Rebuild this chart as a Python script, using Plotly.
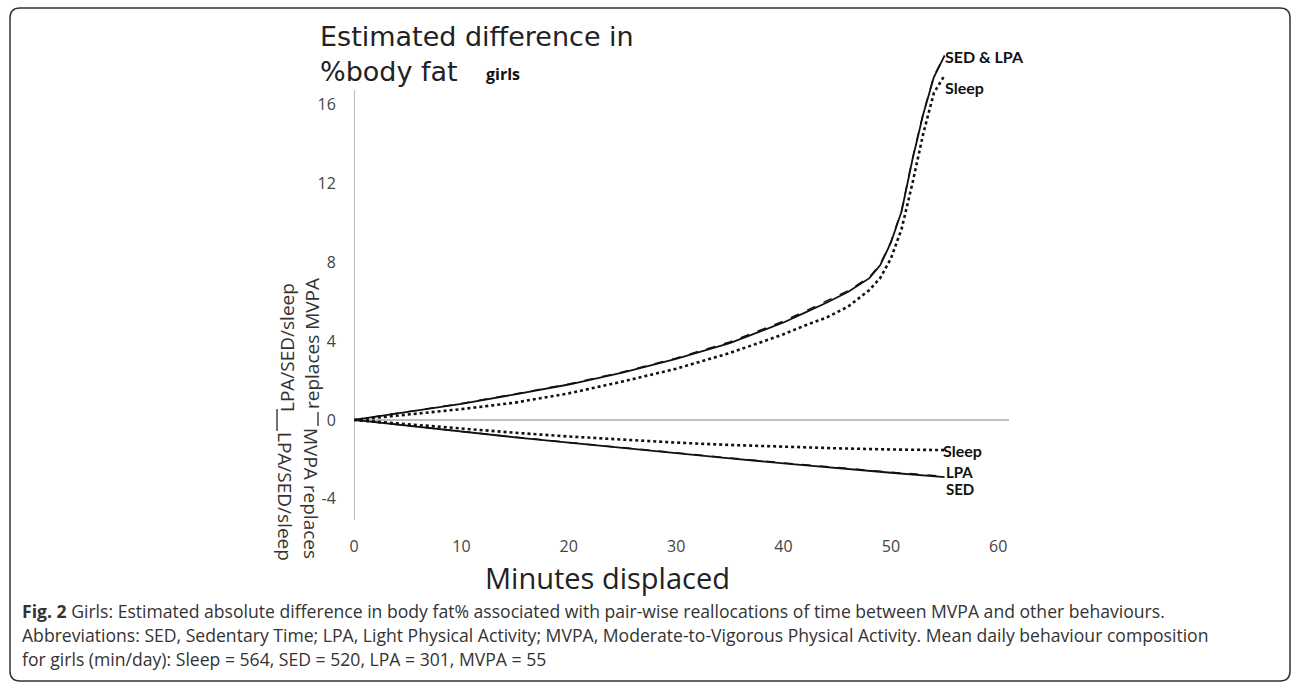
import plotly.graph_objects as go

# ---------------- data ----------------
minutes = [0, 5, 10, 15, 20, 25, 30, 35, 40, 42, 44, 46, 48, 49, 50, 51, 52, 53, 54, 55]

# other behaviour replaces MVPA (positive branch)
sed_up   = [0, 0.40, 0.82, 1.30, 1.80, 2.40, 3.10, 3.90, 4.95, 5.45, 5.95, 6.50, 7.20, 7.85, 9.00, 10.60, 13.20, 15.50, 17.40, 18.50]
lpa_up   = [0, 0.41, 0.84, 1.32, 1.83, 2.43, 3.14, 3.96, 5.02, 5.52, 6.02, 6.56, 7.25, 7.90, 9.05, 10.65, 13.25, 15.55, 17.45, 18.50]
sleep_up = [0, 0.28, 0.55, 0.88, 1.35, 1.95, 2.60, 3.40, 4.35, 4.80, 5.20, 5.75, 6.60, 7.20, 8.20, 9.70, 12.00, 14.50, 16.60, 17.50]

# MVPA replaces other behaviour (negative branch)
minutes_dn = [0, 5, 10, 15, 20, 25, 30, 35, 40, 45, 50, 55]
sed_dn   = [0, -0.30, -0.60, -0.88, -1.15, -1.42, -1.70, -1.95, -2.20, -2.45, -2.68, -2.90]
lpa_dn   = [0, -0.30, -0.59, -0.87, -1.14, -1.41, -1.68, -1.93, -2.18, -2.42, -2.65, -2.86]
sleep_dn = [0, -0.22, -0.45, -0.65, -0.84, -1.00, -1.15, -1.27, -1.37, -1.44, -1.50, -1.53]

x_ticks = [0, 10, 20, 30, 40, 50, 60]
y_ticks = [-4, 0, 4, 8, 12, 16]
y_tick_text = ["-4", "0", "4", "8", "12", "16"]

caption = [
    "<b>Fig. 2</b> Girls: Estimated absolute difference in body fat% associated with pair-wise reallocations of time between MVPA and other behaviours.",
    "Abbreviations: SED, Sedentary Time; LPA, Light Physical Activity; MVPA, Moderate-to-Vigorous Physical Activity. Mean daily behaviour composition",
    "for girls (min/day): Sleep = 564, SED = 520, LPA = 301, MVPA = 55",
]

# ---------------- layout geometry (pixels) ----------------
W, H = 1293, 685
PL, PR, PT, PB = 354, 1009, 45, 520
XR = [0, 61]
YR = [-5.08, 19.04]


def px(x):
    return (x - PL) / (PR - PL)


def py(y):
    return (PB - y) / (PB - PT)


fig = go.Figure()

black = "#111111"
fig.add_trace(go.Scatter(x=minutes, y=sleep_up, mode="lines", line=dict(color=black, width=2.6, dash="dot"), hoverinfo="skip"))
fig.add_trace(go.Scatter(x=minutes, y=sed_up, mode="lines", line=dict(color=black, width=1.8), hoverinfo="skip"))
fig.add_trace(go.Scatter(x=minutes, y=lpa_up, mode="lines", line=dict(color=black, width=1.5, dash="dash"), hoverinfo="skip"))
fig.add_trace(go.Scatter(x=minutes_dn, y=sleep_dn, mode="lines", line=dict(color=black, width=2.6, dash="dot"), hoverinfo="skip"))
fig.add_trace(go.Scatter(x=minutes_dn, y=sed_dn, mode="lines", line=dict(color=black, width=1.8), hoverinfo="skip"))
fig.add_trace(go.Scatter(x=minutes_dn, y=lpa_dn, mode="lines", line=dict(color=black, width=1.5, dash="dash"), hoverinfo="skip"))

shapes = []
# zero line and y axis line
shapes.append(dict(type="line", xref="x", yref="y", x0=0, x1=61, y0=0, y1=0, line=dict(color="#aaaaaa", width=1.5), layer="below"))
shapes.append(dict(type="line", xref="x", yref="y", x0=0, x1=0, y0=-5.08, y1=16.75, line=dict(color="#bbbbbb", width=2), layer="below"))
# separators between rotated side labels
shapes.append(dict(type="line", xref="paper", yref="paper", x0=px(277), x1=px(277), y0=py(409), y1=py(431), line=dict(color="#444444", width=1.5)))
shapes.append(dict(type="line", xref="paper", yref="paper", x0=px(318), x1=px(318), y0=py(412), y1=py(426), line=dict(color="#444444", width=1.5)))
# rounded frame
L, T, R, B, r = 10, 8, 1290, 681, 10
path = (f"M {px(L)},{py(T + r)} Q {px(L)},{py(T)} {px(L + r)},{py(T)} "
        f"L {px(R - r)},{py(T)} Q {px(R)},{py(T)} {px(R)},{py(T + r)} "
        f"L {px(R)},{py(B - r)} Q {px(R)},{py(B)} {px(R - r)},{py(B)} "
        f"L {px(L + r)},{py(B)} Q {px(L)},{py(B)} {px(L)},{py(B - r)} Z")
shapes.append(dict(type="path", xref="paper", yref="paper", path=path, line=dict(color="#333333", width=1.5)))

ann = []
# two-line title in one text block (line height 1.3em = 35px, as in the reference)
ann.append(dict(text="Estimated difference in<br>%body fat", x=px(318), y=py(54), xref="paper", yref="paper",
                xanchor="left", yanchor="middle", align="left", showarrow=False,
                font=dict(family="DejaVu Sans", size=27, color="#222222")))
ann.append(dict(text="<b>girls</b>", x=px(484), y=py(74), xref="paper", yref="paper", xanchor="left", yanchor="middle",
                showarrow=False, font=dict(family="Open Sans", size=16, color="#111111")))
ann.append(dict(text="Minutes displaced", x=px(607), y=py(577), xref="paper", yref="paper", xanchor="center", yanchor="middle",
                showarrow=False, font=dict(family="Open Sans", size=29, color="#222222")))

end_labels = [("<b>SED &amp; LPA</b>", 943, 56, 16), ("<b>Sleep</b>", 943, 87, 16), ("<b>Sleep</b>", 941, 450, 16),
              ("<b>LPA</b>", 944, 472, 15), ("<b>SED</b>", 944, 489, 15)]
for t, x, y, s in end_labels:
    ann.append(dict(text=t, x=px(x), y=py(y), xref="paper", yref="paper", xanchor="left", yanchor="middle", showarrow=False,
                    font=dict(family="Lato", size=s, color="#111111")))

sfont = dict(family="Open Sans", size=19, color="#333333")
side = [("LPA/SED/sleep", 287, 348, -90), ("replaces MVPA", 312, 344, -90),
        ("LPA/SED/sleep", 285, 496, 90), ("MVPA replaces", 311, 493, 90)]
for t, x, y, a in side:
    ann.append(dict(text=t, x=px(x), y=py(y), xref="paper", yref="paper", xanchor="center", yanchor="middle", textangle=a, showarrow=False, font=sfont))

cfont = dict(family="Open Sans", size=17.6, color="#333333")
for i, line in enumerate(caption):
    ann.append(dict(text=line, x=px(20), y=py(611 + 24 * i), xref="paper", yref="paper", xanchor="left", yanchor="middle", showarrow=False, font=cfont))

fig.update_layout(
    width=W, height=H,
    margin=dict(l=PL, r=W - PR, t=PT, b=H - PB, pad=0),
    paper_bgcolor="white", plot_bgcolor="white",
    showlegend=False,
    shapes=shapes, annotations=ann,
    xaxis=dict(range=XR, tickvals=x_ticks, showgrid=False, zeroline=False, showline=False,
               ticks="outside", ticklen=12, tickcolor="rgba(0,0,0,0)",
               tickfont=dict(family="Open Sans", size=16, color="#444444")),
    yaxis=dict(range=YR, tickvals=y_ticks, ticktext=y_tick_text, showgrid=False, zeroline=False, showline=False,
               ticks="outside", ticklen=14, tickcolor="rgba(0,0,0,0)",
               tickfont=dict(family="Open Sans", size=16, color="#444444")),
)

fig.write_html("out.html", config={"displayModeBar": False},
               post_script="document.body.style.margin='0px';document.body.style.overflow='hidden';")
